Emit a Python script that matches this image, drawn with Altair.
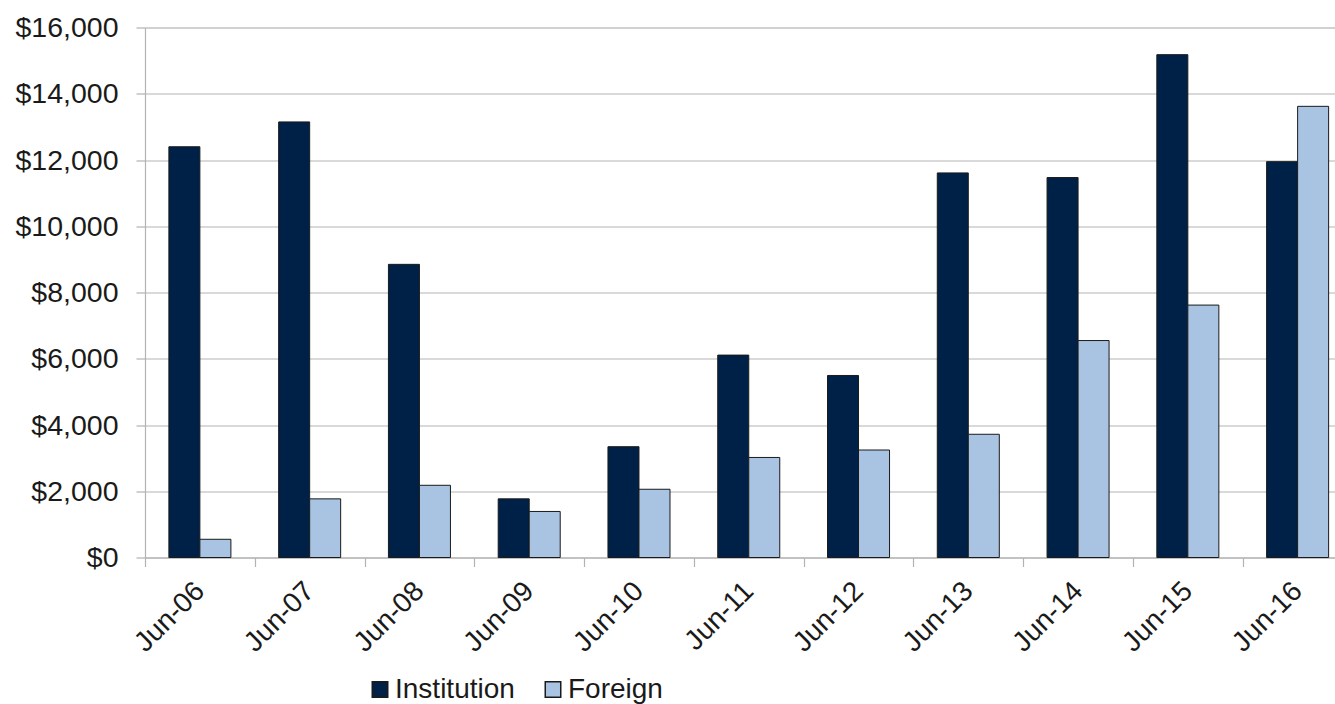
import altair as alt
import pandas as pd

# Year-end (June) balances, in dollars
periods = ["Jun-06", "Jun-07", "Jun-08", "Jun-09", "Jun-10", "Jun-11",
           "Jun-12", "Jun-13", "Jun-14", "Jun-15", "Jun-16"]
institution = [12400, 13150, 8850, 1770, 3345, 6110, 5495, 11610, 11470, 15180, 11950]
foreign = [550, 1770, 2180, 1390, 2060, 3020, 3245, 3720, 6550, 7620, 13620]

series = ["Institution", "Foreign"]
colors = ["#002147", "#A9C4E2"]

rows = []
for p, a, b in zip(periods, institution, foreign):
    rows.append({"period": p, "series": "Institution", "value": a})
    rows.append({"period": p, "series": "Foreign", "value": b})
df = pd.DataFrame(rows)

FONT = "Liberation Sans"
TEXT = "#1a1a1a"
GRID = "#b3b3b3"

chart = (
    alt.Chart(df)
    .mark_bar(stroke="#1a1a1a", strokeWidth=1)
    .encode(
        x=alt.X(
            "period:N",
            sort=periods,
            scale=alt.Scale(range=[0, 1207.5], paddingInner=0, paddingOuter=0),
            axis=alt.Axis(
                title=None,
                labelAngle=-45,
                labelAlign="right",
                labelBaseline="middle",
                labelFontSize=28,
                labelFont=FONT,
                labelColor=TEXT,
                labelPadding=20,
                tickBand="extent",
                tickSize=9,
                tickColor=GRID,
                tickWidth=1.2,
                domainColor=GRID,
                domainWidth=1.2,
                grid=False,
            ),
        ),
        xOffset=alt.XOffset(
            "series:N",
            sort=series,
            scale=alt.Scale(paddingInner=0, paddingOuter=0.77),
        ),
        y=alt.Y(
            "value:Q",
            scale=alt.Scale(domain=[0, 16000], nice=False),
            axis=alt.Axis(
                title=None,
                values=list(range(0, 16001, 2000)),
                format="$,d",
                labelFontSize=28.5,
                labelFont=FONT,
                labelColor=TEXT,
                labelPadding=18,
                tickSize=9,
                tickColor=GRID,
                tickWidth=1.2,
                domainColor=GRID,
                domainWidth=1.2,
                grid=True,
                gridColor=GRID,
                gridWidth=1.2,
            ),
        ),
        color=alt.Color(
            "series:N",
            sort=series,
            scale=alt.Scale(domain=series, range=colors),
            legend=alt.Legend(
                title=None,
                orient="none",
                direction="horizontal",
                legendX=221,
                legendY=648,
                symbolType="square",
                symbolSize=240,
                symbolStrokeColor="#1a1a1a",
                symbolStrokeWidth=1.5,
                symbolOpacity=1,
                labelFontSize=28,
                labelFont=FONT,
                labelColor=TEXT,
                labelOffset=1,
                columnPadding=24,
                padding=0,
            ),
        ),
    )
    .properties(
        width=1190,
        height=530,
        autosize=alt.AutoSizeParams(type="none"),
        padding={"left": 145, "top": 27.5, "right": 0, "bottom": 146.5},
    )
    .configure_view(stroke=None)
    .configure(background="white")
)

chart.save("out.html", embed_options={"renderer": "svg", "actions": False})
